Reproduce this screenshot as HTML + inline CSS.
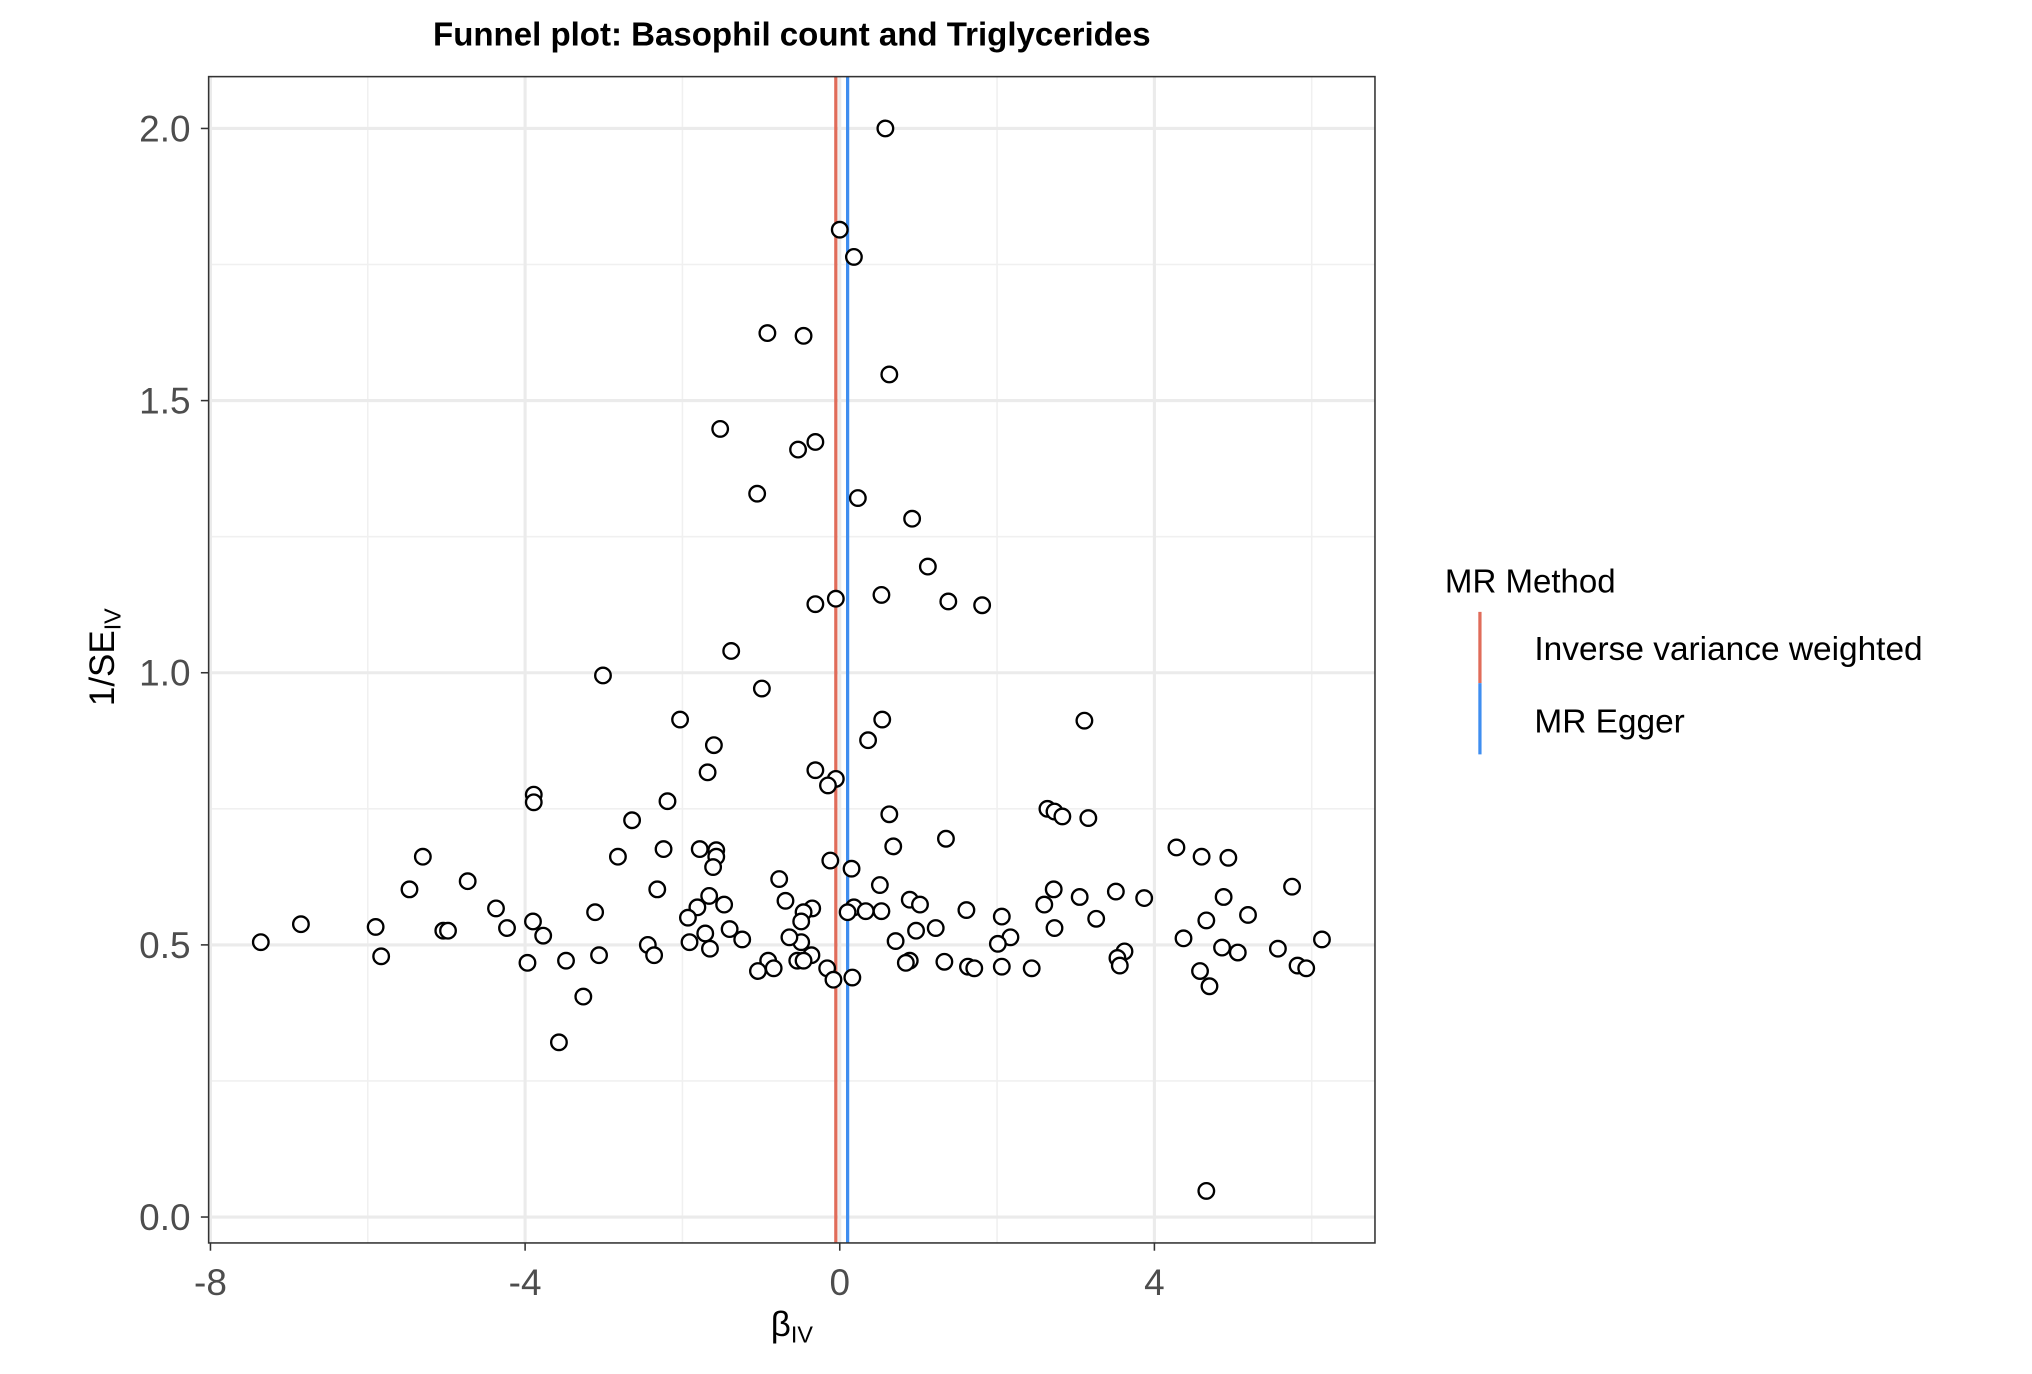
<!DOCTYPE html>
<html><head><meta charset="utf-8"><style>
html,body{margin:0;padding:0;background:#fff;}
svg{display:block;font-family:"Liberation Sans",Arial,sans-serif;}
</style></head><body>
<svg id="chart" width="2032" height="1374" viewBox="0 0 1568 1060" xmlns="http://www.w3.org/2000/svg">
<text x="611" y="35" text-anchor="middle" font-size="25.5" font-weight="bold">Funnel plot: Basophil count and Triglycerides</text>
<g id="grid"></g>
<g id="lines"></g>
<g id="points"></g>
<rect x="161" y="59" width="900" height="900" fill="none" stroke="#333" stroke-width="1.2"/>
<g id="axes"></g>
<text transform="translate(88,507) rotate(-90)" text-anchor="middle" font-size="27">1/SE<tspan font-size="18" dy="5">IV</tspan></text>
<text x="611" y="1031" text-anchor="middle" font-size="27">β<tspan font-size="18" dy="5">IV</tspan></text>
<g>
<text x="1115" y="457" font-size="25.5">MR Method</text>
<line x1="1142" y1="472" x2="1142" y2="527" stroke="#e06c5a" stroke-width="2.5"/>
<line x1="1142" y1="527" x2="1142" y2="582" stroke="#3f8ef0" stroke-width="2.5"/>
<text x="1184" y="509" font-size="25.8">Inverse variance weighted</text>
<text x="1184" y="565" font-size="25.8">MR Egger</text>
</g>
</svg>
<script>
const xTicks=[-8,-4,0,4];
const xMinor=[-6,-2,2,6];
const yTicks=[0,0.5,1,1.5,2];
const yTickLabels=["0.0","0.5","1.0","1.5","2.0"];
const yMinor=[0.25,0.75,1.25,1.75];
const methodNames=["Inverse variance weighted","MR Egger"];
const methodEstimates=[-0.05,0.10];
const betaIV=[0.58,0.00,0.18,-0.92,-0.46,0.63,-1.52,-0.31,-0.53,-1.05,0.23,0.92,1.12,-0.05,-0.31,0.53,1.38,1.81,-1.38,-3.01,-0.99,-2.03,0.54,3.11,0.36,-1.60,-1.68,-0.31,-0.05,-0.15,-3.89,-3.89,-2.19,2.64,2.73,2.83,0.63,3.16,-2.64,1.35,4.28,-2.24,-1.78,-1.57,0.68,-5.30,-2.82,-1.57,4.60,4.94,-1.61,-0.12,0.15,-4.73,-0.77,-5.47,-2.32,0.51,5.75,3.51,2.72,-1.66,3.05,3.87,4.88,-0.69,0.89,-1.47,1.02,-4.37,-1.81,-0.35,0.18,1.61,2.60,-0.46,0.10,0.33,0.53,-3.11,5.19,4.66,3.26,2.06,-1.93,-0.49,-6.85,-5.90,-3.90,2.73,-4.23,1.22,0.97,-1.40,-5.04,-4.98,-1.71,-3.77,-1.24,2.17,6.13,-7.36,-1.91,-0.49,0.71,2.01,-2.44,-0.64,4.37,4.86,5.57,-1.65,5.06,3.62,-5.83,-3.06,-2.36,-0.36,3.53,-3.48,-0.91,0.89,1.33,-0.54,-0.46,-3.97,0.84,3.56,-0.84,1.63,1.71,2.06,2.44,-0.16,5.82,5.93,-1.04,4.58,-0.08,0.16,4.70,-3.26,-3.57,4.66];
const invSE=[2.00,1.814,1.764,1.624,1.619,1.548,1.448,1.424,1.410,1.329,1.321,1.283,1.195,1.136,1.126,1.143,1.131,1.124,1.040,0.995,0.971,0.914,0.914,0.912,0.876,0.867,0.817,0.821,0.805,0.793,0.776,0.762,0.764,0.750,0.745,0.736,0.740,0.733,0.729,0.695,0.679,0.676,0.676,0.674,0.681,0.662,0.662,0.662,0.662,0.660,0.643,0.655,0.640,0.617,0.621,0.602,0.602,0.610,0.607,0.598,0.602,0.590,0.588,0.586,0.588,0.581,0.583,0.574,0.574,0.567,0.569,0.567,0.569,0.564,0.574,0.560,0.560,0.562,0.562,0.560,0.555,0.545,0.548,0.552,0.550,0.543,0.538,0.533,0.543,0.531,0.531,0.531,0.526,0.529,0.526,0.526,0.521,0.517,0.510,0.514,0.510,0.505,0.505,0.505,0.507,0.502,0.500,0.514,0.512,0.495,0.493,0.493,0.486,0.488,0.479,0.481,0.481,0.481,0.476,0.471,0.471,0.471,0.469,0.471,0.471,0.467,0.467,0.462,0.457,0.460,0.457,0.460,0.457,0.457,0.462,0.457,0.452,0.452,0.436,0.440,0.424,0.405,0.321,0.048];

const NS="http://www.w3.org/2000/svg";
const X=v=>648+v*60.7;
const Y=v=>939-v*420;
function mk(tag,attrs,parent){const e=document.createElementNS(NS,tag);for(const k in attrs)e.setAttribute(k,attrs[k]);parent.appendChild(e);return e;}
const grid=document.getElementById('grid'),axes=document.getElementById('axes'),lines=document.getElementById('lines'),pts=document.getElementById('points');
xMinor.forEach(v=>{const l=mk('line',{x1:X(v),x2:X(v),y1:59,y2:959,stroke:'#f0f0f0','stroke-width':1.2},grid);

});
yMinor.forEach(v=>{const l=mk('line',{x1:161,x2:1061,y1:Y(v),y2:Y(v),stroke:'#f0f0f0','stroke-width':1.2},grid);

});
xTicks.forEach(v=>{const l=mk('line',{x1:X(v),x2:X(v),y1:59,y2:959,stroke:'#ebebeb','stroke-width':2.4},grid);


const t=mk('line',{x1:X(v),x2:X(v),y1:959,y2:965,stroke:'#333','stroke-width':1.2},axes);


const tx=mk('text',{x:X(v),y:999,'text-anchor':'middle','font-size':28.5,fill:'#4d4d4d'},axes);tx.textContent=String(v);

});
yTicks.forEach((v,i)=>{const l=mk('line',{x1:161,x2:1061,y1:Y(v),y2:Y(v),stroke:'#ebebeb','stroke-width':2.4},grid);


const t=mk('line',{x1:155,x2:161,y1:Y(v),y2:Y(v),stroke:'#333','stroke-width':1.2},axes);


const tx=mk('text',{x:147,y:Y(v)+10,'text-anchor':'end','font-size':28.5,fill:'#4d4d4d'},axes);tx.textContent=yTickLabels[i];

});
const cols=['#e06c5a','#3f8ef0'];
methodEstimates.forEach((v,i)=>{const l=mk('line',{x1:X(v),x2:X(v),y1:59,y2:959,stroke:cols[i],'stroke-width':2.5},lines);

});
betaIV.forEach((b,i)=>{const c=mk('circle',{cx:X(b),cy:Y(invSE[i]),r:6,fill:'#fff',stroke:'#000','stroke-width':1.8},pts);

});
</script>
</body></html>
